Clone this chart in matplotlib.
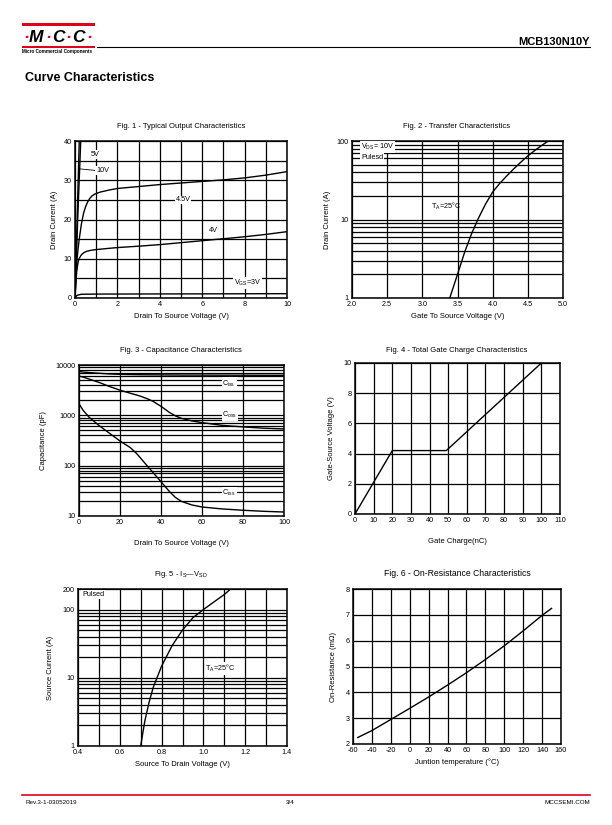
import matplotlib
matplotlib.use('Agg')
import matplotlib.pyplot as plt
from matplotlib.ticker import FixedLocator, NullFormatter, FixedFormatter

plt.rcParams['font.family'] = ['Liberation Sans', 'DejaVu Sans']
plt.rcParams['mathtext.fontset'] = 'custom'
plt.rcParams['mathtext.rm'] = 'Liberation Sans'
plt.rcParams['mathtext.it'] = 'Liberation Sans'
plt.rcParams['axes.unicode_minus'] = False

# ---------------- data ----------------
# Fig 1 - output characteristics
f1_10v_x = [0, 0.2]
f1_10v_y = [0, 40]
f1_5v_x = [0, 0.12, 0.27]
f1_5v_y = [0, 19, 40]
f1_45v_x = [0, 0.05, 0.1, 0.15, 0.2, 0.3, 0.4, 0.5, 0.6, 0.7, 0.8, 0.94, 1.2, 1.6, 2, 3, 4, 5, 6, 7, 8, 9, 10]
f1_45v_y = [0, 5.8, 10, 12.8, 15, 18.8, 21.5, 23.3, 24.5, 25.4, 26, 26.5, 27, 27.5, 27.9, 28.4, 28.9, 29.3, 29.7, 30.1, 30.6, 31.3, 32.2]
f1_4v_x = [0, 0.04, 0.08, 0.12, 0.16, 0.2, 0.3, 0.4, 0.55, 0.75, 0.94, 1.5, 2, 3, 4, 5, 6, 7, 8, 9, 10]
f1_4v_y = [0, 3.8, 6.7, 8.3, 9.4, 10.1, 11.0, 11.5, 11.9, 12.15, 12.3, 12.6, 12.85, 13.2, 13.6, 14.1, 14.6, 15.1, 15.6, 16.2, 16.9]
f1_3v_x = [0, 0.1, 0.3, 1, 10]
f1_3v_y = [0, 0.7, 0.95, 1.0, 1.1]

# Fig 2 - transfer characteristics
f2_x = [3.39, 3.5, 3.6, 3.7, 3.8, 3.9, 4.0, 4.1, 4.2, 4.3, 4.4, 4.5, 4.6, 4.7, 4.79]
f2_y = [1, 2.0, 3.8, 6.6, 10.5, 15.8, 22.4, 28.8, 35.9, 44.2, 53.7, 64.6, 75.9, 88.1, 100]

# Fig 3 - capacitance
f3_x = [0, 2, 5, 10, 15, 20, 25, 28, 30, 33, 36, 40, 44, 47, 50, 55, 60, 70, 80, 90, 100]
f3_ciss = [7410, 7250, 7080, 6840, 6640, 6530, 6460, 6430, 6410, 6390, 6380, 6360, 6340, 6330, 6310, 6310, 6300, 6280, 6270, 6250, 6240]
f3_coss = [6030, 5750, 5250, 4470, 3720, 3160, 2750, 2540, 2400, 2160, 1910, 1510, 1150, 977, 871, 776, 716, 631, 589, 556, 537]
f3_crss = [1700, 1259, 912, 617, 437, 309, 229, 176, 142, 102, 74, 48, 31, 23.4, 19.5, 16.6, 15.1, 13.8, 13.0, 12.4, 12.0]

# Fig 4 - gate charge
f4_x = [0, 20, 49, 100]
f4_y = [0, 4.2, 4.2, 10]

# Fig 5 - Is vs Vsd
f5_x = [0.70, 0.71, 0.72, 0.74, 0.76, 0.80, 0.85, 0.90, 0.95, 1.00, 1.05, 1.10, 1.13]
f5_y = [1, 1.55, 2.34, 4.37, 7.24, 14.8, 29.5, 50.1, 75.9, 100, 129, 166, 200]

# Fig 6 - on-resistance
f6_x = [-55, -40, -20, 0, 20, 40, 60, 80, 100, 120, 140, 150]
f6_y = [2.25, 2.52, 2.95, 3.38, 3.82, 4.28, 4.76, 5.27, 5.8, 6.38, 6.98, 7.25]

# ---------------- layout ----------------
W, H = 612, 825
fig = plt.figure(figsize=(6.12, 8.25), dpi=100)

def box(x0, x1, y0, y1):
    return [x0 / W, 1 - y1 / H, (x1 - x0) / W, (y1 - y0) / H]

RED = '#e0001b'
# overlay for page decorations
ov = fig.add_axes([0, 0, 1, 1])
ov.set_xlim(0, W)
ov.set_ylim(H, 0)
ov.axis('off')
ov.fill_between([22, 95], 23, 25.5, color=RED, lw=0)
ov.fill_between([22, 95], 45.5, 47.5, color=RED, lw=0)
ov.plot([97, 590], [47, 47], color='black', lw=0.8)
logo = [('·', RED, 23), ('M', 'black', 29), ('·', RED, 45), ('C', 'black', 52), ('·', RED, 65), ('C', 'black', 72), ('·', RED, 86)]
for ch, col, x in logo:
    ov.text(x, 37, ch, color=col, fontsize=12.5, fontweight='bold', fontstyle='italic', va='center', ha='left')
ov.text(22, 51.5, 'Micro Commercial Components', fontsize=3.3, fontweight='bold', va='center', ha='left')
ov.text(590, 42, 'MCB130N10Y', fontsize=8, fontweight='bold', va='center', ha='right')
ov.text(25, 78, 'Curve Characteristics', fontsize=9, fontweight='bold', va='center', ha='left')
ov.plot([22, 590], [795, 795], color=RED, lw=1.2)
ov.text(25, 803, 'Rev.3-1-03052019', fontsize=4.5, va='center', ha='left')
ov.text(290, 803, '3/4', fontsize=4.5, va='center', ha='center')
ov.text(590, 803, 'MCCSEMI.COM', fontsize=4.5, va='center', ha='right')

TFS = 5.2
LFS = 5.5
CLW = 1.0
GLW = 0.9

def setup(ax, xmaj, xmin, ymaj, ymin, xlim, ylim, logy=False, ylabels=None):
    if logy:
        ax.set_yscale('log')
    ax.set_xlim(*xlim)
    ax.set_ylim(*ylim)
    ax.xaxis.set_major_locator(FixedLocator(xmaj))
    ax.xaxis.set_minor_locator(FixedLocator(xmin))
    ax.yaxis.set_major_locator(FixedLocator(ymaj))
    ax.yaxis.set_minor_locator(FixedLocator(ymin))
    ax.xaxis.set_minor_formatter(NullFormatter())
    ax.yaxis.set_minor_formatter(NullFormatter())
    if ylabels is not None:
        ax.yaxis.set_major_formatter(FixedFormatter(ylabels))
    ax.grid(which='both', color='black', lw=GLW)
    ax.set_axisbelow(True)
    ax.tick_params(which='both', length=0, labelsize=TFS, pad=2.5)
    for s in ax.spines.values():
        s.set_linewidth(1.1)

def wtext(ax, x, y, s, **kw):
    ax.text(x, y, s, fontsize=TFS, bbox=dict(facecolor='white', edgecolor='none', pad=0.6), **kw)

def title(x, y, s, fs=LFS):
    ov.text(x, y, s, fontsize=fs, ha='center', va='center')

# Fig 1
ax1 = fig.add_axes(box(75, 287, 141, 298))
setup(ax1, [0, 2, 4, 6, 8, 10], [1, 3, 5, 7, 9], [0, 10, 20, 30, 40], [5, 15, 25, 35], (0, 10), (0, 40))
ax1.xaxis.set_major_formatter(FixedFormatter(['0', '2', '4', '6', '8', '10']))
for xs, ys in [(f1_10v_x, f1_10v_y), (f1_5v_x, f1_5v_y), (f1_45v_x, f1_45v_y), (f1_4v_x, f1_4v_y), (f1_3v_x, f1_3v_y)]:
    ax1.plot(xs, ys, color='black', lw=CLW)
ax1.plot([0.22, 0.97], [32.9, 32.5], color='black', lw=0.6)
wtext(ax1, 0.75, 36.6, '5V', va='center')
wtext(ax1, 1.0, 32.5, '10V', va='center')
wtext(ax1, 5.1, 25, '4.5V', va='center', ha='center')
wtext(ax1, 6.3, 17.3, '4V', va='center')
wtext(ax1, 7.5, 3.9, 'V$_\\mathregular{GS}$=3V', va='center')
ax1.set_xlabel('Drain To Source Voltage (V)', fontsize=LFS, labelpad=3)
ax1.set_ylabel('Drain Current (A)', fontsize=LFS, labelpad=4)
title(181, 127, 'Fig. 1 - Typical Output Characteristics')

# Fig 2
ax2 = fig.add_axes(box(352, 563, 141, 298))
minors2 = [2, 3, 4, 5, 6, 7, 8, 9, 20, 30, 40, 50, 60, 70, 80, 90]
setup(ax2, [2.0, 2.5, 3.0, 3.5, 4.0, 4.5, 5.0], [], [1, 10, 100], minors2, (2, 5), (1, 100), logy=True, ylabels=['1', '10', '100'])
ax2.xaxis.set_major_formatter(FixedFormatter(['2.0', '2.5', '3.0', '3.5', '4.0', '4.5', '5.0']))
ax2.plot(f2_x, f2_y, color='black', lw=CLW)
wtext(ax2, 2.13, 85, 'V$_\\mathregular{DS}$= 10V', va='center')
wtext(ax2, 2.13, 62, 'Pulesd', va='center')
ax2.text(3.13, 14.5, 'T$_\\mathregular{A}$=25°C', fontsize=TFS, va='center')
ax2.set_xlabel('Gate To Source Voltage (V)', fontsize=LFS, labelpad=3)
ax2.set_ylabel('Drain Current (A)', fontsize=LFS, labelpad=4)
title(457, 127, 'Fig. 2 - Transfer Characteristics')

# Fig 3
ax3 = fig.add_axes(box(79, 284, 365, 516))
minors3 = [20, 30, 40, 50, 60, 70, 80, 90, 200, 300, 400, 500, 600, 700, 800, 900, 2000, 3000, 4000, 5000, 6000, 7000, 8000, 9000]
setup(ax3, [0, 20, 40, 60, 80, 100], [], [10, 100, 1000, 10000], minors3, (0, 100), (10, 10000), logy=True, ylabels=['10', '100', '1000', '10000'])
ax3.xaxis.set_major_formatter(FixedFormatter(['0', '20', '40', '60', '80', '100']))
ax3.plot(f3_x, f3_ciss, color='black', lw=CLW)
ax3.plot(f3_x, f3_coss, color='black', lw=CLW)
ax3.plot(f3_x, f3_crss, color='black', lw=CLW)
wtext(ax3, 70, 4300, 'C$_\\mathregular{iss}$', va='center')
wtext(ax3, 70, 1000, 'C$_\\mathregular{oss}$', va='center')
wtext(ax3, 70, 29, 'C$_\\mathregular{rss}$', va='center')
ax3.set_xlabel('Drain To Source Voltage (V)', fontsize=LFS, labelpad=10)
ax3.set_ylabel('Capacitance (pF)', fontsize=LFS, labelpad=6)
title(181, 351, 'Fig. 3 - Capacitance Characteristics')

# Fig 4
ax4 = fig.add_axes(box(355, 560, 363, 514))
setup(ax4, [0, 10, 20, 30, 40, 50, 60, 70, 80, 90, 100, 110], [], [0, 2, 4, 6, 8, 10], [], (0, 110), (0, 10))
ax4.plot(f4_x, f4_y, color='black', lw=CLW)
ax4.set_xlabel('Gate Charge(nC)', fontsize=LFS, labelpad=10)
ax4.set_ylabel('Gate-Source Voltage (V)', fontsize=LFS, labelpad=6)
title(457, 350, 'Fig. 4 - Total Gate Charge Characteristics')

# Fig 5
ax5 = fig.add_axes(box(78, 287, 589, 746))
minors5 = [2, 3, 4, 5, 6, 7, 8, 9, 20, 30, 40, 50, 60, 70, 80, 90]
setup(ax5, [0.4, 0.6, 0.8, 1.0, 1.2, 1.4], [0.5, 0.7, 0.9, 1.1, 1.3], [1, 10, 100, 200], minors5, (0.4, 1.4), (1, 200), logy=True, ylabels=['1', '10', '100', '200'])
ax5.xaxis.set_major_formatter(FixedFormatter(['0.4', '0.6', '0.8', '1.0', '1.2', '1.4']))
ax5.plot(f5_x, f5_y, color='black', lw=CLW)
wtext(ax5, 0.42, 165, 'Pulsed', va='center')
wtext(ax5, 1.01, 13.5, 'T$_\\mathregular{A}$=25°C', va='center')
ax5.set_xlabel('Source To Drain Voltage (V)', fontsize=LFS, labelpad=3)
ax5.set_ylabel('Source Current (A)', fontsize=LFS, labelpad=6)
title(181, 574, 'Fig. 5 - I$_\\mathregular{S}$—V$_\\mathregular{SD}$')

# Fig 6
ax6 = fig.add_axes(box(353, 561, 589, 744))
setup(ax6, [-60, -40, -20, 0, 20, 40, 60, 80, 100, 120, 140, 160], [], [2, 3, 4, 5, 6, 7, 8], [], (-60, 160), (2, 8))
ax6.plot(f6_x, f6_y, color='black', lw=CLW)
ax6.set_xlabel('Juntion temperature (°C)', fontsize=LFS, labelpad=3)
ax6.set_ylabel('On-Resistance (mΩ)', fontsize=LFS, labelpad=6)
title(457, 573, 'Fig. 6 - On-Resistance Characteristics', fs=6.2)

fig.savefig('out.png', dpi=100)
